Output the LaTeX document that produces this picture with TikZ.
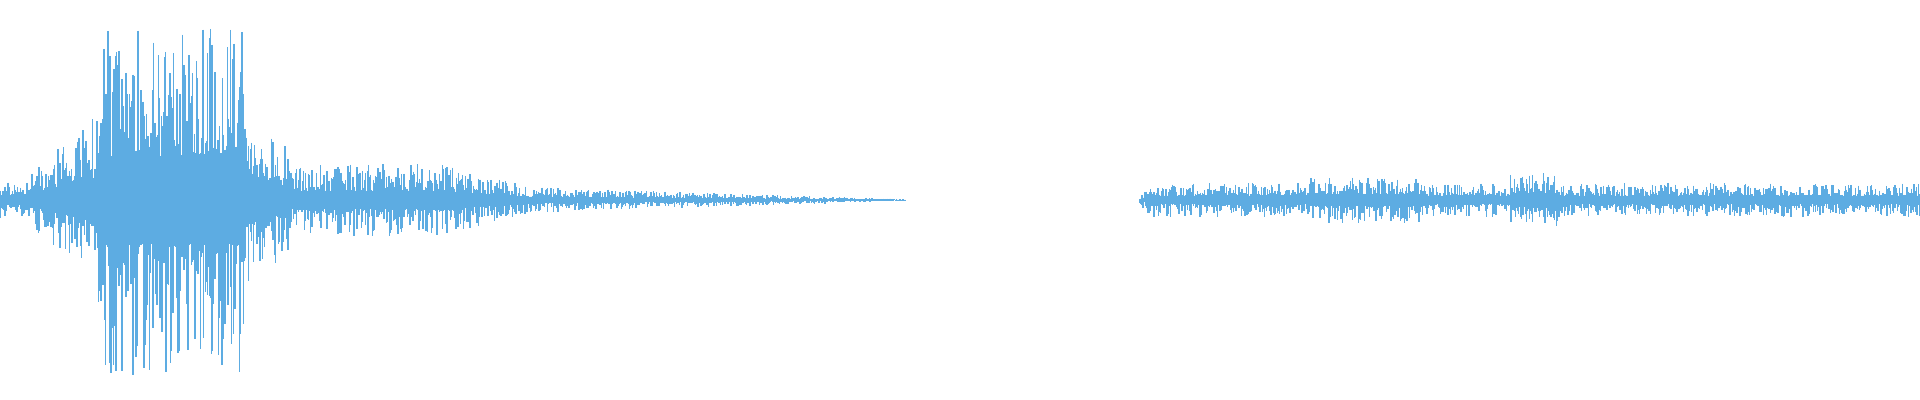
\documentclass[tikz,border=0pt]{standalone}
\usepackage{tikz}
\definecolor{wavecol}{RGB}{93,172,226}
\pgfmathsetseed{11}
\begin{document}
\begin{tikzpicture}[x=0.01cm, y=0.01cm,
    wave/.style={wavecol, line width=0.4pt}
]
    % Frame
    \useasboundingbox (0,0) rectangle (1920,400);
    % Samples
    \foreach \t in {0,0.6,...,1920} {
        \pgfmathsetmacro{\env}{\t<25 ? 20 :
            (\t<98 ? 22+(\t-25)*0.9 :
            (\t<245 ? 175 :
            (\t<290 ? 95-(\t-245)*1.0 :
            (\t<440 ? 36 :
            (\t<527 ? 36-(\t-440)*0.25 :
            (\t<905 ? 12*(905-\t)/378+1 :
            (\t<1140 ? 0 :
            (\t<1150 ? 4+(\t-1140)*1.2 :
            (\t>1310 && \t<1420 ? 23 :
            (\t>1510 && \t<1560 ? 27 : 17))))))))))}
        \ifdim\env pt>0.5pt
            \pgfmathsetmacro{\up}{\env*(0.25+0.75*rnd^3)}
            \pgfmathsetmacro{\dn}{\env*(0.25+0.75*rnd^3)}
            \draw[wave] (\t,200+\up) -- (\t,200-\dn);
        \fi
    }
\end{tikzpicture}
\end{document}
